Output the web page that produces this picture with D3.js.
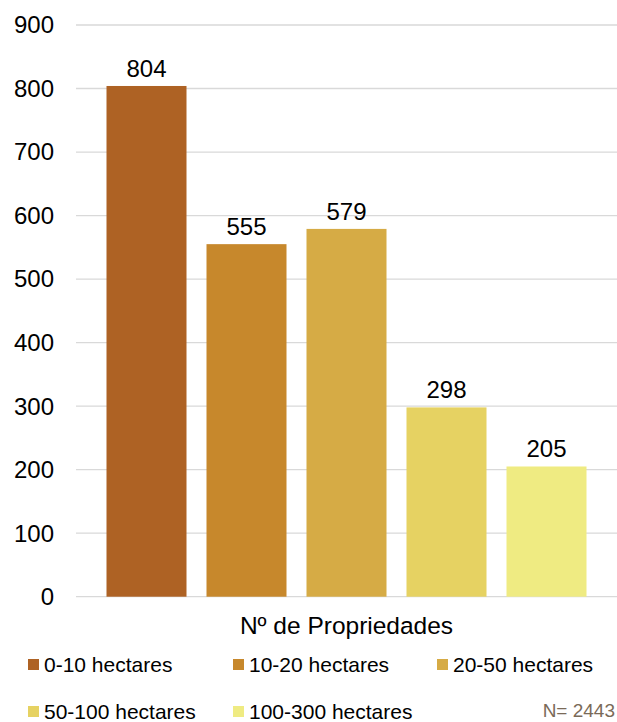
<!DOCTYPE html>
<html>
<head>
<meta charset="utf-8">
<script src="https://cdn.jsdelivr.net/npm/d3@7"></script>
<style>
  html, body { margin: 0; padding: 0; background: #fff; }
  svg { display: block; font-family: "Liberation Sans", Arial, sans-serif; }
</style>
</head>
<body>
<svg id="chart" width="617" height="722"></svg>
<script>
// Property counts by size class
const categories = ["0-10 hectares", "10-20 hectares", "20-50 hectares", "50-100 hectares", "100-300 hectares"];
const values = [804, 555, 579, 298, 205];
const colors = ["#AE6224", "#C7882C", "#D6AB45", "#E6D262", "#EFEB82"];
const yTicks = [0, 100, 200, 300, 400, 500, 600, 700, 800, 900];
const axisTitle = "Nº de Propriedades";
const noteText = "N= 2443";

const svg = d3.select("#chart");

const x = d3.scaleBand()
  .domain(categories)
  .range([96.5, 596.5])
  .paddingInner(0.2)
  .paddingOuter(0.1);

const y = d3.scaleLinear()
  .domain([0, 900])
  .range([596.7, 25]);

const color = d3.scaleOrdinal().domain(categories).range(colors);

// horizontal gridlines
svg.append("g")
  .selectAll("line")
  .data(yTicks)
  .join("line")
  .attr("x1", 76)
  .attr("x2", 617)
  .attr("y1", d => y(d))
  .attr("y2", d => y(d))
  .attr("stroke", "#d9d9d9")
  .attr("stroke-width", 1.3);

// y axis tick labels
svg.append("g")
  .selectAll("text")
  .data(yTicks)
  .join("text")
  .attr("x", 54)
  .attr("y", d => y(d))
  .attr("dy", "0.35em")
  .attr("text-anchor", "end")
  .attr("font-size", 24)
  .attr("fill", "#000")
  .text(d => d);

// bars
svg.append("g")
  .selectAll("rect")
  .data(categories)
  .join("rect")
  .attr("x", d => x(d))
  .attr("width", x.bandwidth())
  .attr("y", (d, i) => y(values[i]))
  .attr("height", (d, i) => y(0) - y(values[i]))
  .attr("fill", d => color(d));

// value labels
svg.append("g")
  .selectAll("text")
  .data(categories)
  .join("text")
  .attr("x", d => x(d) + x.bandwidth() / 2)
  .attr("y", (d, i) => y(values[i]) - 9)
  .attr("text-anchor", "middle")
  .attr("font-size", 24)
  .attr("fill", "#000")
  .text((d, i) => values[i]);

// axis title
svg.append("text")
  .attr("x", 346.5)
  .attr("y", 634)
  .attr("text-anchor", "middle")
  .attr("font-size", 24.5)
  .attr("fill", "#000")
  .text(axisTitle);

// legend
const legendPos = [
  { x: 28, y: 659 }, { x: 233, y: 659 }, { x: 437, y: 659 },
  { x: 28, y: 706 }, { x: 233, y: 706 }
];
const legend = svg.append("g")
  .selectAll("g")
  .data(categories)
  .join("g")
  .attr("transform", (d, i) => `translate(${legendPos[i].x},${legendPos[i].y})`);

legend.append("rect")
  .attr("width", 11)
  .attr("height", 11)
  .attr("fill", d => color(d));

legend.append("text")
  .attr("x", 16)
  .attr("y", 12.5)
  .attr("font-size", 21)
  .attr("fill", "#000")
  .text(d => d);

// sample size note
svg.append("text")
  .attr("x", 615)
  .attr("y", 717)
  .attr("text-anchor", "end")
  .attr("font-size", 19)
  .attr("fill", "#7a6a58")
  .text(noteText);
</script>
</body>
</html>
